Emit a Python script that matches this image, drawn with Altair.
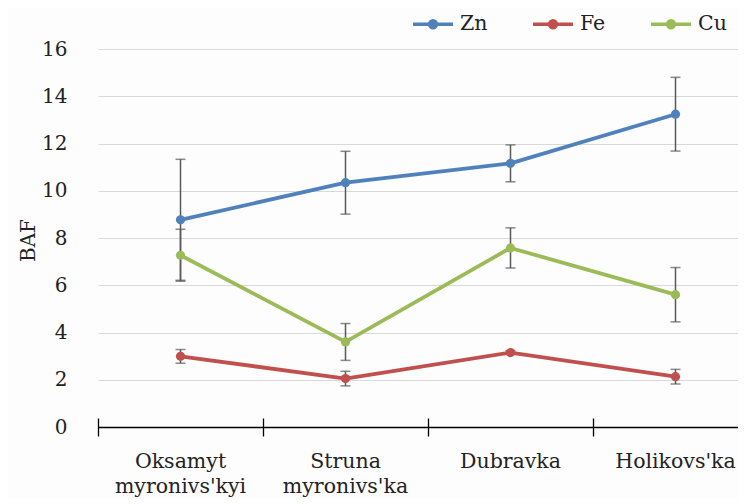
import altair as alt
import pandas as pd

categories = ["Oksamyt\nmyronivs'kyi", "Struna\nmyronivs'ka", "Dubravka", "Holikovs'ka"]
elements = ["Zn", "Fe", "Cu"]
colors = ["#4F81BD", "#C0504D", "#9BBB59"]

zn = [8.77, 10.34, 11.16, 13.24]
zn_sd = [2.56, 1.33, 0.78, 1.56]
fe = [2.99, 2.05, 3.15, 2.13]
fe_sd = [0.29, 0.31, 0.08, 0.31]
cu = [7.27, 3.60, 7.58, 5.60]
cu_sd = [1.10, 0.78, 0.85, 1.15]
y_ticks = [0, 2, 4, 6, 8, 10, 12, 14, 16]

rows = []
for el, vals, sds in zip(elements, [zn, fe, cu], [zn_sd, fe_sd, cu_sd]):
    for site, v, s in zip(categories, vals, sds):
        rows.append({"site": site, "element": el, "value": v, "lo": v - s, "hi": v + s})
df = pd.DataFrame(rows)
caps = pd.concat([
    df[["site", "element", "lo"]].rename(columns={"lo": "cap"}),
    df[["site", "element", "hi"]].rename(columns={"hi": "cap"}),
])

F = "DejaVu Serif"
FS = 20.5
FY = 20

xscale = alt.Scale(type="band", domain=categories, range=[0, 660], paddingInner=0, paddingOuter=0)
yscale = alt.Scale(domain=[0, 16], nice=False)
yaxis = alt.Axis(title="BAF", values=y_ticks, domain=False, ticks=False, tickSize=0,
                 labelPadding=31, grid=True, gridColor="#D9D9D9", gridWidth=1,
                 labelFont=F, labelFontSize=FY, labelColor="#222222",
                 titleFont=F, titleFontSize=FY, titleFontWeight="normal", titleColor="#222222",
                 titleX=-64, titleY=191, titleAlign="center", titleBaseline="alphabetic")

tick_axis = alt.Axis(title=None, labels=False, domain=False, ticks=True, tickSize=18,
                     tickColor="black", tickWidth=1.3, offset=-9, grid=False,
                     tickBand="extent", orient="bottom")
label_axis = alt.Axis(title=None, domain=True, domainColor="black", domainWidth=1.3,
                      ticks=False, tickSize=0, labels=True,
                      labelExpr="split(datum.label, '\\n')", labelAngle=0,
                      labelFont=F, labelFontSize=FS, labelColor="#222222",
                      labelPadding=24, labelLineHeight=25, labelBaseline="top",
                      grid=False, orient="bottom")

sym_path = "M-1,0L1,0M0.17,0A0.17,0.17,0,1,1,-0.17,0A0.17,0.17,0,1,1,0.17,0Z"
color_scale = alt.Scale(domain=elements, range=colors)
legend = alt.Legend(orient="none", legendX=313, legendY=-47, direction="horizontal",
                    columns=3, title=None, symbolType=sym_path, symbolSize=1600,
                    symbolStrokeWidth=3.5, labelFont=F, labelFontSize=FS,
                    labelColor="#222222", labelOffset=5, columnPadding=38, padding=0,
                    symbolOpacity=1)

base = alt.Chart(df)

err = base.mark_rule(color="#595959", strokeWidth=1.5).encode(
    x=alt.X("site:N", sort=categories, scale=xscale, axis=tick_axis),
    y=alt.Y("lo:Q", scale=yscale, axis=yaxis),
    y2="hi:Q",
)
capm = alt.Chart(caps).mark_tick(color="#595959", size=10, thickness=1.5).encode(
    x=alt.X("site:N", sort=categories, scale=xscale, axis=None),
    y=alt.Y("cap:Q", scale=yscale, axis=yaxis),
)
line = base.mark_line(strokeWidth=3.8).encode(
    x=alt.X("site:N", sort=categories, scale=xscale, axis=label_axis),
    y=alt.Y("value:Q", scale=yscale, axis=yaxis),
    color=alt.Color("element:N", scale=color_scale, legend=legend),
    detail="element:N",
)
pts = base.mark_point(filled=True, size=85, opacity=1).encode(
    x=alt.X("site:N", sort=categories, scale=xscale, axis=None),
    y=alt.Y("value:Q", scale=yscale, axis=yaxis),
    color=alt.Color("element:N", scale=color_scale, legend=legend),
)

chart = alt.layer(err, capm, line, pts).resolve_axis(x="independent").properties(
    width=640, height=378,
    autosize=alt.AutoSizeParams(type="none"),
    padding={"left": 90, "top": 41, "right": 0, "bottom": 72},
    background="#FDFDFD",
).configure_view(strokeWidth=0)

chart.save("out.html", embed_options={"renderer": "svg", "actions": False})
